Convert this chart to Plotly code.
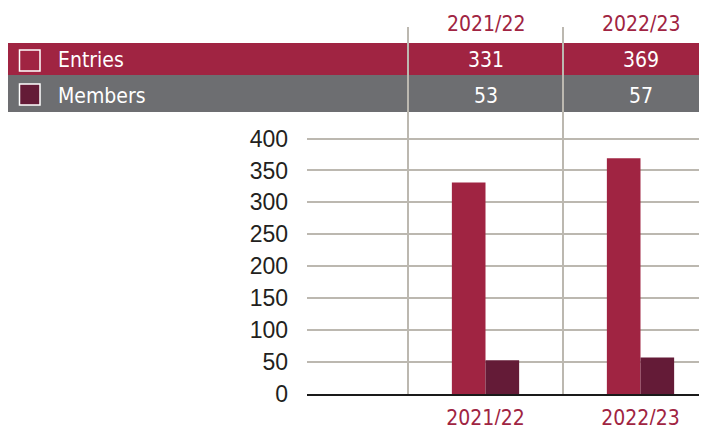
import plotly.graph_objects as go

years = ["2021/22", "2022/23"]
entries = [331, 369]
members = [53, 57]
y_ticks = [0, 50, 100, 150, 200, 250, 300, 350, 400]
row_labels = ["Entries", "Members"]

CRIMSON = "#A02442"
MAROON = "#641B37"
GRAY_BAND = "#6D6E71"
GRID = "#BCB8B0"
NARROW = "DejaVu Sans Condensed, Liberation Sans Narrow, Liberation Sans, sans-serif"
REG = "Liberation Sans, Arial, sans-serif"

# the page puts the figure 8px in from the window's top-left corner
OFF = 8
W, H = 707 - OFF, 425 - OFF
L, R, T, B = 307 - OFF, 0, 27 - OFF, 31
PH = H - T - B
PW = W - L - R
Y0_WIN = 394  # window y of the plot bottom
X0_WIN = 307  # window x of the plot left


def py(y):
    return (Y0_WIN - y) / PH


def px(x):
    return (x - X0_WIN) / PW


fig = go.Figure()
fig.add_trace(go.Bar(x=years, y=entries, name=row_labels[0], marker_color=CRIMSON,
                     marker_line_width=0))
fig.add_trace(go.Bar(x=years, y=members, name=row_labels[1], marker_color=MAROON,
                     marker_line_width=0))

shapes = [
    dict(type="rect", xref="paper", yref="paper", x0=px(8), x1=1.0, y0=py(75), y1=py(43),
         fillcolor=CRIMSON, line_width=0, layer="below"),
    dict(type="rect", xref="paper", yref="paper", x0=px(8), x1=1.0, y0=py(112), y1=py(75),
         fillcolor=GRAY_BAND, line_width=0, layer="below"),
    dict(type="rect", xref="paper", yref="paper", x0=px(19.5), x1=px(40), y0=py(71), y1=py(50),
         fillcolor=CRIMSON, line=dict(color="white", width=1.5), layer="above"),
    dict(type="rect", xref="paper", yref="paper", x0=px(19.5), x1=px(40), y0=py(105), y1=py(84),
         fillcolor=MAROON, line=dict(color="white", width=1.5), layer="above"),
]

FS = 21
annotations = []
for lab, yc in zip(row_labels, [60, 96]):
    annotations.append(dict(text=lab, xref="paper", yref="paper", x=px(56), y=py(yc),
                            xanchor="left", yanchor="middle", showarrow=False,
                            font=dict(family=NARROW, size=FS, color="white")))
for yr, e, m in zip(years, entries, members):
    annotations.append(dict(text=yr, xref="x", yref="paper", x=yr, y=py(24),
                            xanchor="center", yanchor="middle", showarrow=False,
                            font=dict(family=NARROW, size=FS, color=CRIMSON)))
    annotations.append(dict(text=str(e), xref="x", yref="paper", x=yr, y=py(60),
                            xanchor="center", yanchor="middle", showarrow=False,
                            font=dict(family=NARROW, size=FS, color="white")))
    annotations.append(dict(text=str(m), xref="x", yref="paper", x=yr, y=py(96),
                            xanchor="center", yanchor="middle", showarrow=False,
                            font=dict(family=NARROW, size=FS, color="white")))

spacing = 155.0
c0 = 485.5  # window x of the first category centre
fig.update_layout(
    width=W, height=H,
    margin=dict(l=L, r=R, t=T, b=B, pad=0),
    paper_bgcolor="white",
    plot_bgcolor="rgba(0,0,0,0)",
    barmode="group",
    bargap=0.566,
    bargroupgap=0,
    showlegend=False,
    shapes=shapes,
    annotations=annotations,
    xaxis=dict(
        type="category",
        range=[(X0_WIN - c0) / spacing, (X0_WIN + PW - c0) / spacing],
        tickson="boundaries",
        showgrid=True, gridcolor=GRID, gridwidth=1.5,
        showline=True, linecolor="#1a1a1a", linewidth=1.6,
        ticks="", automargin=False,
        tickfont=dict(family=NARROW, size=FS, color=CRIMSON),
        ticklabelstandoff=4,
    ),
    yaxis=dict(
        range=[0, 400 * PH / 255.5],
        tickvals=y_ticks,
        ticktext=[str(v) for v in y_ticks],
        showgrid=True, gridcolor=GRID, gridwidth=1.5,
        zeroline=False, showline=False, ticks="",
        automargin=False,
        tickfont=dict(family=REG, size=23, color="#231F20"),
        ticklabelstandoff=18,
    ),
)

fig.write_html("out.html")
